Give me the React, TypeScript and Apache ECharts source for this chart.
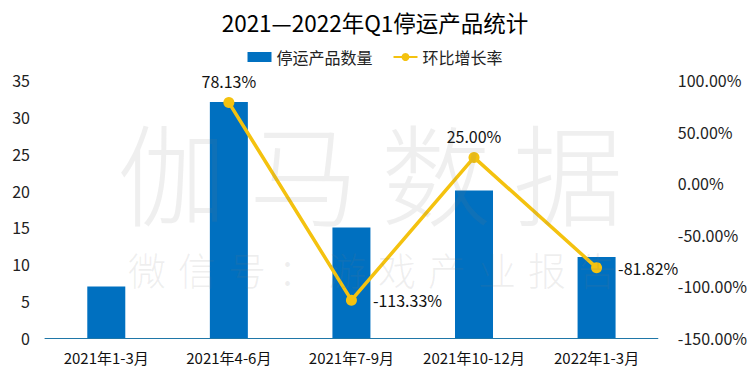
import React, { useEffect, useRef } from "react";
import * as echarts from "echarts";

const categories = ["2021年1-3月", "2021年4-6月", "2021年7-9月", "2021年10-12月", "2022年1-3月"];
const stoppedCounts = [7, 32, 15, 20, 11];
const growthRates: (number | null)[] = [null, 78.13, -113.33, 25.0, -81.82];
const leftTicks = [0, 35, 5];
const rightTicks = [-150, 100, 50];
const watermarkMain = ["伽", "马", "数", "据"];
const watermarkSub = ["微", "信", "号", "：", "游", "戏", "产", "业", "报", "告"];

const FONT = "'Noto Sans CJK SC', 'Noto Sans', sans-serif";

export default function App() {
  const ref = useRef<HTMLDivElement>(null);
  useEffect(() => {
    if (!ref.current) return;
    const chart = echarts.init(ref.current, null, { renderer: "svg" });
    const graphics: any[] = [];
    watermarkMain.forEach((ch, i) => {
      graphics.push({
        type: "text",
        x: 172 + i * 132,
        y: 170,
        z: 100,
        silent: true,
        style: {
          text: ch,
          font: `300 110px ${FONT}`,
          fill: "rgba(120,120,120,0.12)",
          align: "center",
          verticalAlign: "middle",
        },
      });
    });
    watermarkSub.forEach((ch, i) => {
      graphics.push({
        type: "text",
        x: 147 + i * 50,
        y: 268,
        z: 100,
        silent: true,
        style: {
          text: ch,
          font: `300 38px ${FONT}`,
          fill: "rgba(120,120,120,0.12)",
          align: "center",
          verticalAlign: "middle",
        },
      });
    });
    chart.setOption({
      animation: false,
      textStyle: { fontFamily: FONT },
      title: {
        text: "2021—2022年Q1停运产品统计",
        left: "center",
        top: 6,
        textStyle: { fontSize: 22.5, fontWeight: "normal", color: "#000", fontFamily: FONT },
      },
      legend: {
        top: 44,
        left: "center",
        itemGap: 20,
        itemWidth: 24,
        itemHeight: 10,
        textStyle: { fontSize: 16, color: "#222", fontFamily: FONT },
        data: [
          { name: "停运产品数量", icon: "rect" },
          { name: "环比增长率" },
        ],
      },
      grid: { left: 45, right: 91, top: 80, bottom: 44, containLabel: false },
      xAxis: {
        type: "category",
        data: categories,
        axisTick: { show: false },
        axisLine: { lineStyle: { color: "#1f77a8", width: 1 } },
        axisLabel: { interval: 0, fontSize: 15, color: "#111", margin: 12, fontFamily: FONT },
      },
      yAxis: [
        {
          type: "value",
          min: leftTicks[0],
          max: leftTicks[1],
          interval: leftTicks[2],
          splitLine: { show: false },
          axisLine: { show: false },
          axisTick: { show: false },
          axisLabel: { fontSize: 16, color: "#222", margin: 15, fontFamily: FONT },
        },
        {
          type: "value",
          min: rightTicks[0],
          max: rightTicks[1],
          interval: rightTicks[2],
          splitLine: { show: false },
          axisLine: { show: false },
          axisTick: { show: false },
          axisLabel: {
            fontSize: 16,
            color: "#222",
            margin: 20,
            fontFamily: FONT,
            formatter: (v: number) => v.toFixed(2) + "%",
          },
        },
      ],
      series: [
        {
          name: "停运产品数量",
          type: "bar",
          data: stoppedCounts,
          barWidth: 38,
          itemStyle: { color: "#0070C0" },
        },
        {
          name: "环比增长率",
          type: "line",
          yAxisIndex: 1,
          data: growthRates.map((v, i) => ({
            value: v,
            label: {
              position: i === 1 || i === 3 ? "top" : "right",
              distance: i === 1 || i === 3 ? 8 : 16,
            },
          })),
          connectNulls: false,
          symbol: "circle",
          symbolSize: 11,
          lineStyle: { color: "#F4C20F", width: 3.5 },
          itemStyle: { color: "#F4C20F" },
          z: 5,
          label: {
            show: true,
            fontSize: 16,
            color: "#111",
            fontFamily: FONT,
            formatter: (p: any) => (p.value == null ? "" : Number(p.value).toFixed(2) + "%"),
          },
          emphasis: { disabled: true },
        },
      ],
      graphic: graphics,
    });
    return () => chart.dispose();
  }, []);
  return <div ref={ref} style={{ width: 750, height: 382, position: "absolute", left: 0, top: 0 }} />;
}
